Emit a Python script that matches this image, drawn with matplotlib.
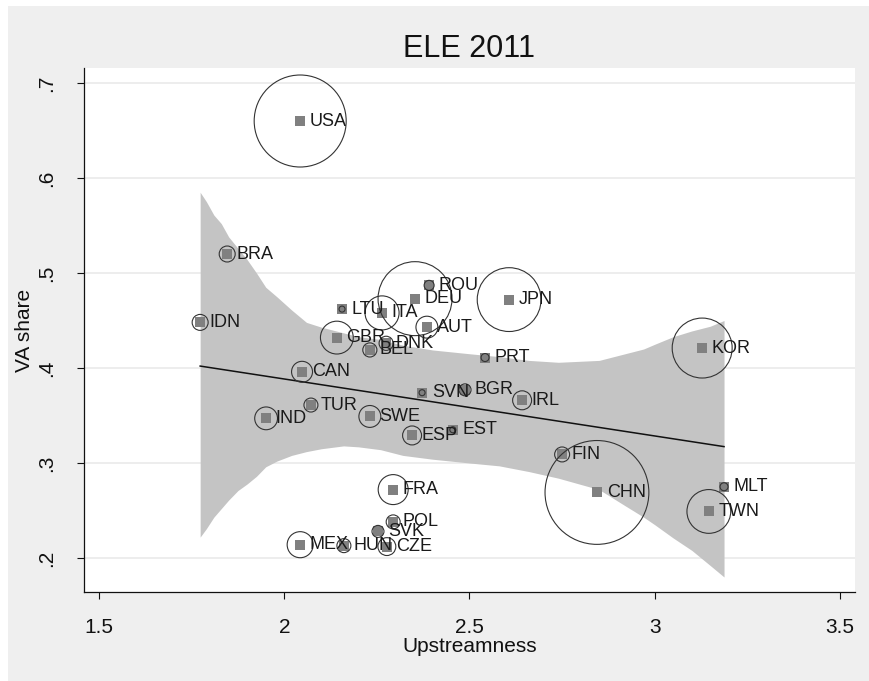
import numpy as np
import matplotlib
matplotlib.use("Agg")
import matplotlib.pyplot as plt
from matplotlib.patches import Rectangle

plt.rcParams['font.family'] = ['Liberation Sans', 'DejaVu Sans']

# Country codes, upstreamness (x), value-added share (y), export weight
countries = ['USA', 'BRA', 'IDN', 'LTU', 'ITA', 'DEU', 'ROU', 'JPN', 'AUT', 'GBR',
             'BEL', 'DNK', 'PRT', 'CAN', 'SVN', 'BGR', 'IRL', 'TUR', 'IND', 'SWE',
             'ESP', 'EST', 'FIN', 'CHN', 'KOR', 'MLT', 'TWN', 'FRA', 'POL', 'SVK',
             'MEX', 'HUN', 'CZE']
upstream = [2.043, 1.846, 1.773, 2.156, 2.264, 2.353, 2.391, 2.607, 2.385, 2.142,
            2.231, 2.275, 2.542, 2.048, 2.372, 2.488, 2.642, 2.072, 1.951, 2.231,
            2.345, 2.455, 2.750, 2.844, 3.128, 3.187, 3.146, 2.294, 2.294, 2.253,
            2.043, 2.161, 2.277]
va_share = [0.660, 0.520, 0.448, 0.462, 0.458, 0.473, 0.487, 0.472, 0.443, 0.432,
            0.419, 0.426, 0.411, 0.396, 0.374, 0.377, 0.366, 0.361, 0.347, 0.349,
            0.329, 0.335, 0.309, 0.269, 0.421, 0.275, 0.249, 0.272, 0.238, 0.228,
            0.214, 0.213, 0.212]
weight = [21.2, 0.64, 0.64, 0.09, 2.9, 13.7, 0.25, 10.2, 1.2, 2.7,
          0.5, 0.5, 0.16, 1.1, 0.09, 0.36, 0.9, 0.49, 1.3, 1.2,
          0.9, 0.09, 0.56, 27.0, 9.0, 0.16, 4.8, 2.25, 0.49, 0.36,
          1.7, 0.49, 0.8]

# 95% confidence band around the linear fit
ci_x = [1.773, 1.79, 1.81, 1.83, 1.85, 1.875, 1.90, 1.925, 1.95, 1.98,
        2.02, 2.06, 2.10, 2.16, 2.20, 2.26, 2.32, 2.40, 2.50, 2.58,
        2.66, 2.74, 2.85, 2.92, 2.97, 3.00, 3.05, 3.10, 3.15, 3.187]
ci_hi = [0.585, 0.575, 0.561, 0.552, 0.538, 0.526, 0.514, 0.500, 0.485, 0.475,
         0.461, 0.448, 0.443, 0.437, 0.433, 0.430, 0.424, 0.419, 0.415, 0.412,
         0.408, 0.406, 0.408, 0.415, 0.420, 0.425, 0.433, 0.439, 0.444, 0.450]
ci_lo = [0.222, 0.231, 0.243, 0.252, 0.261, 0.271, 0.278, 0.286, 0.296, 0.302,
         0.308, 0.312, 0.315, 0.318, 0.317, 0.314, 0.308, 0.304, 0.300, 0.297,
         0.291, 0.284, 0.272, 0.255, 0.243, 0.235, 0.221, 0.208, 0.192, 0.180]

x = np.array(upstream)
y = np.array(va_share)
w = np.array(weight)
bx = np.array(ci_x)
lo = np.array(ci_lo)
hi = np.array(ci_hi)

fig = plt.figure(figsize=(8.7, 6.81), dpi=100, facecolor='white')
fig.patches.append(Rectangle((8 / 870, 0), 1, 1 - 6 / 681, transform=fig.transFigure,
                             facecolor='#efefef', edgecolor='none', zorder=-10))
ax = fig.add_axes([84 / 870, 1 - 592 / 681, 771 / 870, 524 / 681])
ax.set_facecolor('white')

# band and fitted line (centre of the band)
ax.fill_between(bx, lo, hi, color='#c4c4c4', linewidth=0, zorder=1)
b1, b0 = np.polyfit(bx, (lo + hi) / 2, 1)
fx = np.array([bx.min(), bx.max()])
ax.plot(fx, b0 + b1 * fx, color='#111111', lw=1.1, zorder=2)

# points: gray squares with weighted hollow circles
ax.scatter(x, y, s=50, marker='s', color='#808080', linewidths=0, zorder=3)
ax.scatter(x, y, s=207 * w, marker='o', facecolors='none', edgecolors='#333333',
           linewidths=0.8, zorder=4)
for c, xi, yi in zip(countries, x, y):
    ax.annotate(c, (xi, yi), xytext=(7, 0), textcoords='offset points',
                ha='left', va='center', fontsize=13, color='#1a1a1a', zorder=5)

ax.set_xlim(1.4595, 3.5405)
ax.set_ylim(0.1642, 0.7158)
ax.set_xticks([1.5, 2, 2.5, 3, 3.5])
ax.set_xticklabels(['1.5', '2', '2.5', '3', '3.5'])
ax.set_yticks([0.2, 0.3, 0.4, 0.5, 0.6, 0.7])
ax.set_yticklabels(['.2', '.3', '.4', '.5', '.6', '.7'], rotation=90, va='center')
ax.tick_params(axis='both', direction='out', length=5, width=0.8, labelsize=15,
               colors='#111111')
ax.tick_params(axis='x', pad=14)
ax.tick_params(axis='y', pad=15)
ax.grid(axis='y', color='#eaeaea', lw=1.2, zorder=0)
ax.set_axisbelow(True)
for s in ['top', 'right']:
    ax.spines[s].set_visible(False)
for s in ['left', 'bottom']:
    ax.spines[s].set_linewidth(0.9)
    ax.spines[s].set_color('#111111')

ax.set_xlabel('Upstreamness', fontsize=15, labelpad=0, color='#111111')
ax.set_ylabel('VA share', fontsize=15, labelpad=2, color='#111111')
ax.set_title('ELE 2011', fontsize=22, pad=8, color='#111111')

fig.savefig('out.png', dpi=100, facecolor=fig.get_facecolor())
